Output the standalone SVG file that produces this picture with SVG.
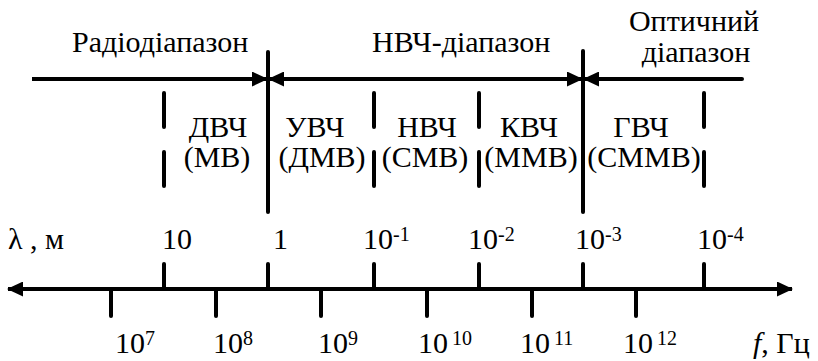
<svg xmlns="http://www.w3.org/2000/svg" width="818" height="361" viewBox="0 0 818 361" font-family="'Liberation Serif', 'Times New Roman', serif" font-size="30">
<style>
text{fill:#000}
.m{text-anchor:middle}
.sup{font-size:20px}
.ln{stroke:#000;stroke-width:4;fill:none;stroke-linecap:round}
.ax{stroke:#000;stroke-width:4;fill:none;stroke-linecap:butt}
.dash{stroke:#000;stroke-width:4;fill:none;stroke-linecap:round;stroke-dasharray:34 25}
</style>
<defs>
<marker id="ah" viewBox="0 0 16 15" refX="15" refY="7.5" markerWidth="16" markerHeight="15" markerUnits="userSpaceOnUse" orient="auto-start-reverse">
<path d="M0,0 L16,7.5 L0,15 z" fill="#000"/>
</marker>
</defs>
<rect width="818" height="361" fill="#fff"/>
<g id="connectors">
<line class="ax" x1="32" y1="79" x2="267" y2="79" marker-end="url(#ah)" stroke-linecap="round"/>
<line class="ax" x1="269" y1="79" x2="582" y2="79" marker-start="url(#ah)" marker-end="url(#ah)"/>
<line class="ln" x1="742" y1="79" x2="586" y2="79"/>
<line class="ax" x1="584" y1="79" x2="600" y2="79" marker-start="url(#ah)"/>
<line class="ln" x1="268" y1="52" x2="268" y2="212"/>
<line class="ln" x1="583" y1="51" x2="583" y2="212"/>
<line class="dash" x1="164" y1="93" x2="164" y2="186"/>
<line class="dash" x1="374" y1="93" x2="374" y2="186"/>
<line class="dash" x1="479" y1="93" x2="479" y2="186"/>
<line class="dash" x1="704" y1="93" x2="704" y2="186"/>
<line class="ax" x1="8" y1="289" x2="792" y2="289" marker-start="url(#ah)" marker-end="url(#ah)"/>
<g id="ticks-up">
<line class="ln" x1="164" y1="264" x2="164" y2="289"/>
<line class="ln" x1="268" y1="264" x2="268" y2="289"/>
<line class="ln" x1="374" y1="264" x2="374" y2="289"/>
<line class="ln" x1="479" y1="264" x2="479" y2="289"/>
<line class="ln" x1="583" y1="264" x2="583" y2="289"/>
<line class="ln" x1="704" y1="264" x2="704" y2="289"/>
</g>
<g id="ticks-down">
<line class="ln" x1="111" y1="289" x2="111" y2="316"/>
<line class="ln" x1="216" y1="289" x2="216" y2="316"/>
<line class="ln" x1="321" y1="289" x2="321" y2="316"/>
<line class="ln" x1="427" y1="289" x2="427" y2="316"/>
<line class="ln" x1="532" y1="289" x2="532" y2="316"/>
<line class="ln" x1="636" y1="289" x2="636" y2="316"/>
</g>
</g>
<g id="range-radio"><text x="72" y="52">Радіодіапазон</text></g>
<g id="range-nvch"><text x="372" y="52">НВЧ-діапазон</text></g>
<g id="range-optical"><text class="m" x="694" y="31">Оптичний</text><text class="m" x="696" y="62">діапазон</text></g>
<g id="band-dvch"><text class="m" x="218" y="137">ДВЧ</text><text class="m" x="217" y="167">(МВ)</text></g>
<g id="band-uvch"><text class="m" x="315" y="137">УВЧ</text><text class="m" x="322" y="167">(ДМВ)</text></g>
<g id="band-nvch"><text class="m" x="427" y="137">НВЧ</text><text class="m" x="425" y="167">(СМВ)</text></g>
<g id="band-kvch"><text class="m" x="529" y="137">КВЧ</text><text class="m" x="531" y="167">(ММВ)</text></g>
<g id="band-gvch"><text class="m" x="641" y="137">ГВЧ</text><text class="m" x="644" y="167">(СММВ)</text></g>
<g id="lambda-labels">
<text x="8" y="249">λ , м</text>
<text x="162" y="249">10</text>
<text x="273" y="249">1</text>
<text x="363" y="249">10<tspan class="sup" dy="-8">-1</tspan></text>
<text x="468" y="249">10<tspan class="sup" dy="-8">-2</tspan></text>
<text x="575" y="249">10<tspan class="sup" dy="-8">-3</tspan></text>
<text x="697" y="249">10<tspan class="sup" dy="-8">-4</tspan></text>
</g>
<g id="freq-labels">
<text x="115" y="353">10<tspan class="sup" dy="-8">7</tspan></text>
<text x="213" y="353">10<tspan class="sup" dy="-8">8</tspan></text>
<text x="318" y="353">10<tspan class="sup" dy="-8">9</tspan></text>
<text x="418" y="353">10<tspan class="sup" dx="4" dy="-8">10</tspan></text>
<text x="520" y="353">10<tspan class="sup" dx="4" dy="-8">11</tspan></text>
<text x="623" y="353">10<tspan class="sup" dx="4" dy="-8">12</tspan></text>
<text x="753" y="353"><tspan font-style="italic">f</tspan>, Гц</text>
</g>
</svg>
